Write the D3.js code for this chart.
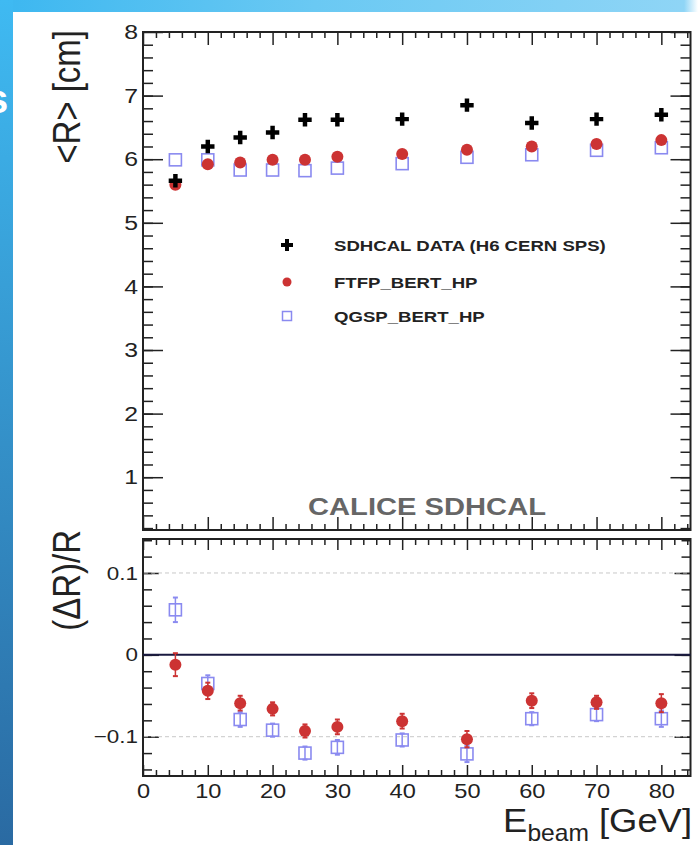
<!DOCTYPE html>
<html>
<head>
<meta charset="utf-8">
<script src="https://cdn.jsdelivr.net/npm/d3@7"></script>
<style>
  body { margin: 0; background: #fff; }
  svg { display: block; font-family: "Liberation Sans", Arial, sans-serif; }
</style>
</head>
<body>
<div id="chart"></div>
<script>
// beam energies (GeV)
var energies = [5, 10, 15, 20, 25, 30, 40, 50, 60, 70, 80];

// mean radius <R> in cm
var dataR = [5.66, 6.20, 6.34, 6.42, 6.62, 6.62, 6.63, 6.85, 6.57, 6.63, 6.70];
var ftfpR = [5.60, 5.92, 5.95, 5.99, 5.99, 6.04, 6.08, 6.15, 6.20, 6.24, 6.30];
var qgspR = [5.99, 5.99, 5.83, 5.83, 5.82, 5.86, 5.93, 6.03, 6.07, 6.14, 6.18];

// relative difference (MC - data)/data and its error
var ftfpRel = [-0.012, -0.044, -0.059, -0.066, -0.093, -0.088, -0.081, -0.103, -0.056, -0.058, -0.059];
var ftfpErr = [0.014, 0.010, 0.009, 0.008, 0.008, 0.009, 0.009, 0.010, 0.009, 0.008, 0.011];
var qgspRel = [0.055, -0.035, -0.079, -0.092, -0.120, -0.113, -0.104, -0.121, -0.078, -0.073, -0.078];
var qgspErr = [0.015, 0.010, 0.009, 0.008, 0.008, 0.009, 0.008, 0.010, 0.008, 0.008, 0.010];

var xTicks = [0, 10, 20, 30, 40, 50, 60, 70, 80];
var yTopTicks = [1, 2, 3, 4, 5, 6, 7, 8];
var yBotTicks = [-0.1, 0, 0.1];
var legendLabels = ["SDHCAL DATA (H6 CERN SPS)", "FTFP_BERT_HP", "QGSP_BERT_HP"];

var W = 698, H = 845;
var SX = 1.18; // picture is stretched sideways
var frameCol = "#222";
var redCol = "#cc3333", blueCol = "#8a8af0";

var svg = d3.select("#chart").append("svg")
    .attr("width", W).attr("height", H);

// slide background
var defs = svg.append("defs");
var gl = defs.append("linearGradient").attr("id", "leftBar")
    .attr("x1", 0).attr("y1", 0).attr("x2", 0).attr("y2", 1);
gl.append("stop").attr("offset", "0%").attr("stop-color", "#3fbaf2");
gl.append("stop").attr("offset", "100%").attr("stop-color", "#2a6aa2");
var gt = defs.append("linearGradient").attr("id", "topBar");
gt.append("stop").attr("offset", "0%").attr("stop-color", "#3cb7f0");
gt.append("stop").attr("offset", "45%").attr("stop-color", "#6ac9f3");
gt.append("stop").attr("offset", "98%").attr("stop-color", "#8fd5f6");
gt.append("stop").attr("offset", "100%").attr("stop-color", "#ffffff");

svg.append("rect").attr("width", W).attr("height", H).attr("fill", "#fff");
svg.append("rect").attr("x", 0).attr("y", 0).attr("width", W).attr("height", 12).attr("fill", "url(#topBar)");
svg.append("rect").attr("x", 0).attr("y", 0).attr("width", 13).attr("height", H).attr("fill", "url(#leftBar)");
// edge of a slide word, cut off as in the source
svg.append("text").attr("x", -14).attr("y", 113)
    .attr("font-size", 40).attr("font-weight", "bold").attr("fill", "#fff").text("s");

// scales
var x = d3.scaleLinear().domain([0, 84.5]).range([143, 690.5]);
var yTop = d3.scaleLinear().domain([0.17, 8]).range([530, 32]);
var yBot = d3.scaleLinear().domain([-0.148, 0.1415]).range([776, 539]);

function xMinor() { return d3.range(2, 85, 2).filter(function(v) { return v % 10 !== 0; }); }

function drawAxis(g, axis) {
    g.call(axis);
    g.select(".domain").remove();
    g.selectAll(".tick line").attr("stroke", frameCol).attr("stroke-width", 1.5);
    return g;
}

function panel(yScale, yMajor, yMinor, ymaj, ymin, xmaj, xmin) {
    var x0 = x.range()[0], x1 = x.range()[1];
    var y0 = yScale.range()[1], y1 = yScale.range()[0];
    // ticks on all four sides, pointing inwards
    drawAxis(svg.append("g").attr("transform", "translate(" + x0 + ",0)"),
        d3.axisLeft(yScale).tickValues(yMinor).tickSize(-ymin).tickFormat(""));
    drawAxis(svg.append("g").attr("transform", "translate(" + x1 + ",0)"),
        d3.axisRight(yScale).tickValues(yMinor).tickSize(-ymin).tickFormat(""));
    drawAxis(svg.append("g").attr("transform", "translate(" + x1 + ",0)"),
        d3.axisRight(yScale).tickValues(yMajor).tickSize(-ymaj).tickFormat(""));
    drawAxis(svg.append("g").attr("transform", "translate(0," + y0 + ")"),
        d3.axisTop(x).tickValues(xMinor()).tickSize(-xmin).tickFormat(""));
    drawAxis(svg.append("g").attr("transform", "translate(0," + y0 + ")"),
        d3.axisTop(x).tickValues(xTicks).tickSize(-xmaj).tickFormat(""));
    drawAxis(svg.append("g").attr("transform", "translate(0," + y1 + ")"),
        d3.axisBottom(x).tickValues(xMinor()).tickSize(-xmin).tickFormat(""));
    drawAxis(svg.append("g").attr("transform", "translate(0," + y1 + ")"),
        d3.axisBottom(x).tickValues(xTicks).tickSize(-xmaj).tickFormat(""));
    var left = drawAxis(svg.append("g").attr("transform", "translate(" + x0 + ",0)"),
        d3.axisLeft(yScale).tickValues(yMajor).tickSize(-ymaj).tickPadding(5));
    svg.append("rect").attr("x", x0).attr("y", y0).attr("width", x1 - x0).attr("height", y1 - y0)
        .attr("fill", "none").attr("stroke", frameCol).attr("stroke-width", 2);
    return left;
}

function styleLabels(g, size) {
    g.selectAll(".tick text")
        .attr("fill", "#222").attr("font-size", size)
        .attr("font-family", "'Liberation Sans', Arial, sans-serif")
        .each(function() {
            var t = d3.select(this);
            var px = +t.attr("x") || 0;
            t.attr("transform", "translate(" + px + ",0) scale(" + SX + ",1)").attr("x", 0);
        });
}

// top panel
var topLeft = panel(yTop, yTopTicks, d3.range(0.2, 8, 0.2), 20, 10, 13, 6);
topLeft.call(function(g) {
    g.selectAll(".tick text").text(function(d) { return d3.format("d")(d); });
    styleLabels(g, 21);
});

// bottom panel
var botLeft = panel(yBot, yBotTicks, d3.range(-0.14, 0.141, 0.02), 16, 9, 11, 6);
botLeft.call(function(g) {
    g.selectAll(".tick text").text(function(d) { return d === 0 ? "0" : d3.format(".1f")(d).replace("-", "\u2212"); });
    styleLabels(g, 19);
});

// x tick labels under the ratio panel
var xLab = svg.append("g").attr("transform", "translate(0,776)")
    .call(d3.axisBottom(x).tickValues(xTicks).tickSize(0).tickPadding(8).tickFormat(d3.format("d")));
xLab.select(".domain").remove();
styleLabels(xLab, 20);

// ratio panel reference lines
svg.selectAll(".grid").data([-0.1, 0.1]).enter().append("line")
    .attr("x1", x.range()[0] + 1).attr("x2", x.range()[1] - 1)
    .attr("y1", function(d) { return yBot(d); }).attr("y2", function(d) { return yBot(d); })
    .attr("stroke", "#c8c8c8").attr("stroke-width", 1).attr("stroke-dasharray", "4,3");
svg.append("line")
    .attr("x1", x.range()[0]).attr("x2", x.range()[1])
    .attr("y1", yBot(0)).attr("y2", yBot(0))
    .attr("stroke", "#1a1a40").attr("stroke-width", 2);

// markers
var plus = d3.symbol().type(d3.symbolCross).size(100);

function squares(g, vals, ys, side) {
    g.selectAll(null).data(vals).enter().append("rect")
        .attr("x", function(d, i) { return x(energies[i]) - side / 2; })
        .attr("y", function(d) { return ys(d) - side / 2; })
        .attr("width", side).attr("height", side)
        .attr("fill", "none").attr("stroke", blueCol).attr("stroke-width", 1.6);
}
function dots(g, vals, ys, r) {
    g.selectAll(null).data(vals).enter().append("circle")
        .attr("cx", function(d, i) { return x(energies[i]); })
        .attr("cy", function(d) { return ys(d); })
        .attr("r", r).attr("fill", redCol);
}
function errBars(g, vals, errs, col) {
    var eb = g.selectAll(null).data(vals).enter().append("g");
    eb.append("line")
        .attr("x1", function(d, i) { return x(energies[i]); })
        .attr("x2", function(d, i) { return x(energies[i]); })
        .attr("y1", function(d, i) { return yBot(d - errs[i]); })
        .attr("y2", function(d, i) { return yBot(d + errs[i]); })
        .attr("stroke", col).attr("stroke-width", 1.5);
    [-1, 1].forEach(function(s) {
        eb.append("line")
            .attr("x1", function(d, i) { return x(energies[i]) - 2.5; })
            .attr("x2", function(d, i) { return x(energies[i]) + 2.5; })
            .attr("y1", function(d, i) { return yBot(d + s * errs[i]); })
            .attr("y2", function(d, i) { return yBot(d + s * errs[i]); })
            .attr("stroke", col).attr("stroke-width", 2);
    });
}

var gTop = svg.append("g");
squares(gTop, qgspR, yTop, 12);
dots(gTop, ftfpR, yTop, 6);
gTop.selectAll(null).data(dataR).enter().append("path")
    .attr("d", plus)
    .attr("transform", function(d, i) { return "translate(" + x(energies[i]) + "," + yTop(d) + ")"; })
    .attr("fill", "#000");

var gBot = svg.append("g");
errBars(gBot, qgspRel, qgspErr, blueCol);
squares(gBot, qgspRel, yBot, 12);
errBars(gBot, ftfpRel, ftfpErr, redCol);
dots(gBot, ftfpRel, yBot, 6);

// legend
var legY = [245, 282, 316];
var leg = svg.append("g");
leg.append("path").attr("d", d3.symbol().type(d3.symbolCross).size(80))
    .attr("transform", "translate(287," + legY[0] + ")").attr("fill", "#000");
leg.append("circle").attr("cx", 287).attr("cy", legY[1]).attr("r", 4.5).attr("fill", redCol);
leg.append("rect").attr("x", 282.5).attr("y", legY[2] - 4.5).attr("width", 9).attr("height", 9)
    .attr("fill", "none").attr("stroke", blueCol).attr("stroke-width", 1.5);
leg.selectAll(null).data(legendLabels).enter().append("text")
    .attr("transform", function(d, i) { return "translate(334," + (legY[i] + 5.5) + ") scale(1.24,1)"; })
    .attr("font-size", 15).attr("font-weight", "bold").attr("fill", "#222")
    .text(function(d) { return d; });

// experiment label
svg.append("text")
    .attr("transform", "translate(427,515) scale(1.24,1)")
    .attr("text-anchor", "middle").attr("font-size", 23.5).attr("font-weight", "bold")
    .attr("fill", "#666").text("CALICE SDHCAL");

// axis titles
svg.append("text")
    .attr("transform", "translate(80,30) scale(" + SX + ",1) rotate(-90)")
    .attr("text-anchor", "end").attr("font-size", 33).attr("fill", "#222")
    .text("<R> [cm]");
svg.append("text")
    .attr("transform", "translate(80,530) scale(" + SX + ",1) rotate(-90)")
    .attr("text-anchor", "end").attr("font-size", 33).attr("fill", "#222")
    .text("(\u0394R)/R");
var xt = svg.append("text")
    .attr("transform", "translate(692,832) scale(1.07,1)")
    .attr("text-anchor", "end").attr("font-size", 34).attr("fill", "#222");
xt.append("tspan").text("E");
xt.append("tspan").attr("font-size", 23).attr("dy", 9).text("beam");
xt.append("tspan").attr("dy", -9).text(" [GeV]");
</script>
</body>
</html>
